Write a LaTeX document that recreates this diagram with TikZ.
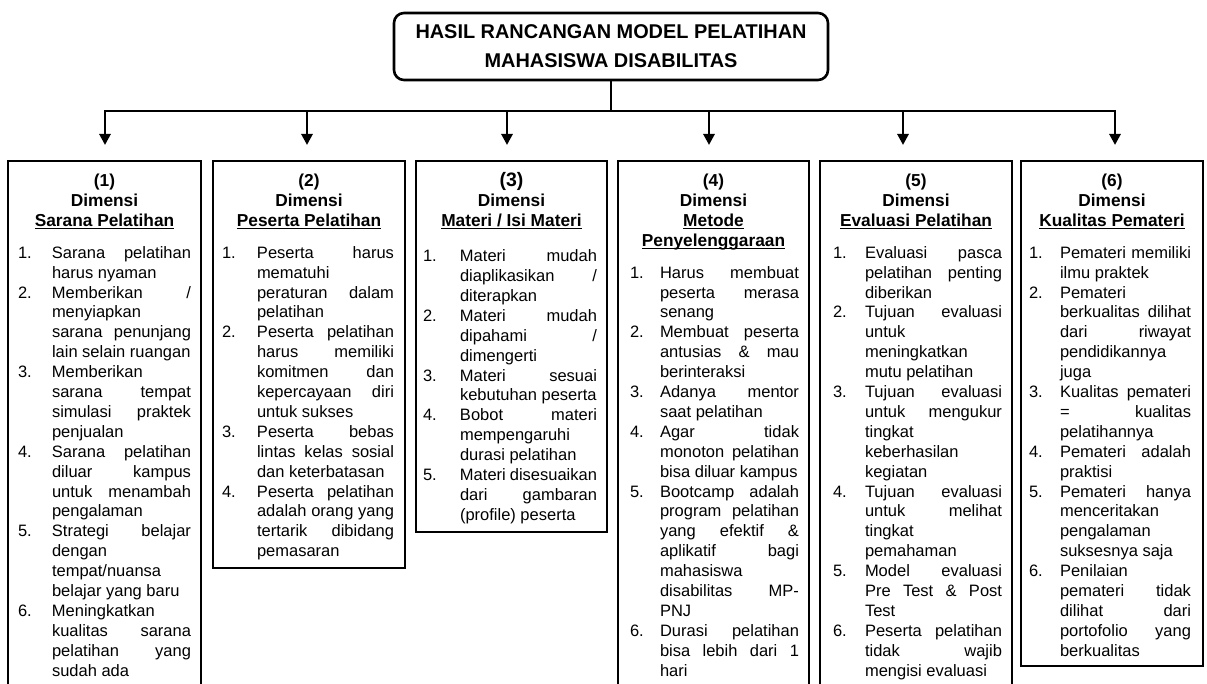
\documentclass[tikz,border=0pt]{standalone}
\usepackage{fontspec}
\setmainfont{Liberation Sans}
\usetikzlibrary{arrows.meta}
\newdimen\Wb \newdimen\numo \newdimen\txto \newdimen\txtw
\newsavebox\ulbox
\newcommand\ulin[1]{\sbox\ulbox{#1}\rlap{\rule[-2.6pt]{\wd\ulbox}{1.3pt}}\usebox\ulbox}
\newcommand\HF{\bfseries\fontsize{17.3}{19.9}\selectfont}
\newcommand\Hfirst[1]{\noindent\rule{0pt}{26pt}\makebox[\Wb][c]{\HF #1}\par}
\newcommand\Hl[1]{\noindent\makebox[\Wb][c]{\HF #1}\par}
\newcommand\Jl[2][]{\noindent\hspace*{\numo}\makebox[\dimexpr\txto-\numo\relax][l]{#1}\makebox[\txtw][s]{#2}\par}
\newcommand\Ll[2][]{\noindent\hspace*{\numo}\makebox[\dimexpr\txto-\numo\relax][l]{#1}\makebox[\txtw][l]{#2}\par}
\newcommand\dimbox[8]{%
  \node[dbox] (#1) at (#2,161) {\Wb=#3pt\numo=#5pt\txto=#6pt\txtw=#7pt\relax
    \parbox[t][#4pt][t]{\Wb}{\fontsize{16.5}{19.9}\selectfont #8}};}
\tikzset{
  dbox/.style={draw, line width=2.6pt, inner sep=0pt, outer sep=0pt, anchor=north west},
  tbox/.style={draw, line width=2.6pt, rounded corners=10pt, inner sep=0pt, outer sep=0pt,
    minimum width=434pt, minimum height=67pt, align=center,
    font=\bfseries\fontsize{19.9}{29}\selectfont},
  ln/.style={line width=2.8pt},
  arr/.style={line width=2.8pt, -{Triangle[width=11pt,length=11pt]}, shorten >=16pt}
}
\begin{document}
\begin{tikzpicture}[x=1pt,y=-1pt]
\useasboundingbox (0,0) rectangle (1207,684);
\clip (0,0) rectangle (1207,684);
\fill[white] (0,0) rectangle (1207,684);

\node[tbox] (title) at (611,46.5) {HASIL RANCANGAN MODEL PELATIHAN\\MAHASISWA DISABILITAS};

\dimbox{b1}{8}{193}{560}{10}{44}{139}{%
\Hfirst{(1)}\Hl{Dimensi}\Hl{\ulin{Sarana Pelatihan}}\vspace{11.6pt}%
\Jl[1.]{Sarana pelatihan}\Ll{harus nyaman}%
\Jl[2.]{Memberikan /}\Ll{menyiapkan}\Jl{sarana penunjang}\Ll{lain selain ruangan}%
\Ll[3.]{Memberikan}\Jl{sarana tempat}\Jl{simulasi praktek}\Ll{penjualan}%
\Jl[4.]{Sarana pelatihan}\Jl{diluar kampus}\Jl{untuk menambah}\Ll{pengalaman}%
\Jl[5.]{Strategi belajar}\Ll{dengan}\Ll{tempat/nuansa}\Ll{belajar yang baru}%
\Ll[6.]{Meningkatkan}\Jl{kualitas sarana}\Jl{pelatihan yang}\Ll{sudah ada}}

\dimbox{b2}{213}{192}{407}{9}{44}{137}{%
\Hfirst{(2)}\Hl{Dimensi}\Hl{\ulin{Peserta Pelatihan}}\vspace{11.6pt}%
\Jl[1.]{Peserta harus}\Ll{mematuhi}\Jl{peraturan dalam}\Ll{pelatihan}%
\Jl[2.]{Peserta pelatihan}\Jl{harus memiliki}\Jl{komitmen dan}\Jl{kepercayaan diri}\Ll{untuk sukses}%
\Jl[3.]{Peserta bebas}\Jl{lintas kelas sosial}\Ll{dan keterbatasan}%
\Jl[4.]{Peserta pelatihan}\Jl{adalah orang yang}\Jl{tertarik dibidang}\Ll{pemasaran}}

\dimbox{b3}{416}{191}{371}{7}{44}{137}{%
\Hfirst{\fontsize{19.5}{19.9}\selectfont(3)}\Hl{Dimensi}\Hl{\ulin{Materi / Isi Materi}}\vspace{15pt}%
\Jl[1.]{Materi mudah}\Jl{diaplikasikan /}\Ll{diterapkan}%
\Jl[2.]{Materi mudah}\Jl{dipahami /}\Ll{dimengerti}%
\Jl[3.]{Materi sesuai}\Ll{kebutuhan peserta}%
\Jl[4.]{Bobot materi}\Ll{mempengaruhi}\Ll{durasi pelatihan}%
\Jl[5.]{Materi disesuaikan}\Jl{dari gambaran}\Ll{(profile) peserta}}

\dimbox{b4}{618}{191}{560}{12}{42}{139}{%
\Hfirst{(4)}\Hl{Dimensi}\Hl{\ulin{Metode}}\Hl{\ulin{Penyelenggaraan}}\vspace{11.6pt}%
\Jl[1.]{Harus membuat}\Jl{peserta merasa}\Ll{senang}%
\Jl[2.]{Membuat peserta}\Jl{antusias \& mau}\Ll{berinteraksi}%
\Jl[3.]{Adanya mentor}\Ll{saat pelatihan}%
\Jl[4.]{Agar tidak}\Jl{monoton pelatihan}\Ll{bisa diluar kampus}%
\Jl[5.]{Bootcamp adalah}\Jl{program pelatihan}\Jl{yang efektif \&}\Jl{aplikatif bagi}\Ll{mahasiswa}\Jl{disabilitas MP-}\Ll{PNJ}%
\Jl[6.]{Durasi pelatihan}\Jl{bisa lebih dari 1}\Ll{hari}}

\dimbox{b5}{820}{192}{560}{13}{45}{137}{%
\Hfirst{(5)}\Hl{Dimensi}\Hl{\ulin{Evaluasi Pelatihan}}\vspace{11.6pt}%
\Jl[1.]{Evaluasi pasca}\Jl{pelatihan penting}\Ll{diberikan}%
\Jl[2.]{Tujuan evaluasi}\Ll{untuk}\Ll{meningkatkan}\Ll{mutu pelatihan}%
\Jl[3.]{Tujuan evaluasi}\Jl{untuk mengukur}\Ll{tingkat}\Ll{keberhasilan}\Ll{kegiatan}%
\Jl[4.]{Tujuan evaluasi}\Jl{untuk melihat}\Ll{tingkat}\Ll{pemahaman}%
\Jl[5.]{Model evaluasi}\Jl{Pre Test \& Post}\Ll{Test}%
\Jl[6.]{Peserta pelatihan}\Jl{tidak wajib}\Ll{mengisi evaluasi}}

\dimbox{b6}{1021}{182}{505}{8}{39}{131}{%
\Hfirst{(6)}\Hl{Dimensi}\Hl{\ulin{Kualitas Pemateri}}\vspace{11.6pt}%
\Jl[1.]{Pemateri memiliki}\Ll{ilmu praktek}%
\Ll[2.]{Pemateri}\Jl{berkualitas dilihat}\Jl{dari riwayat}\Ll{pendidikannya}\Ll{juga}%
\Jl[3.]{Kualitas pemateri}\Jl{= kualitas}\Ll{pelatihannya}%
\Jl[4.]{Pemateri adalah}\Ll{praktisi}%
\Jl[5.]{Pemateri hanya}\Ll{menceritakan}\Ll{pengalaman}\Ll{suksesnya saja}%
\Ll[6.]{Penilaian}\Jl{pemateri tidak}\Jl{dilihat dari}\Jl{portofolio yang}\Ll{berkualitas}}

\coordinate (j) at (611,111);
\coordinate (a1) at (105,111);
\coordinate (a2) at (307,111);
\coordinate (a3) at (507,111);
\coordinate (a4) at (709,111);
\coordinate (a5) at (903,111);
\coordinate (a6) at (1115,111);
\draw[ln] (title.south) -- (j);
\draw[ln, line cap=rect] (a1) -- (a6);
\foreach \i in {1,...,6}{\draw[arr] (a\i) -- (a\i |- b\i.north);}
\end{tikzpicture}
\end{document}
